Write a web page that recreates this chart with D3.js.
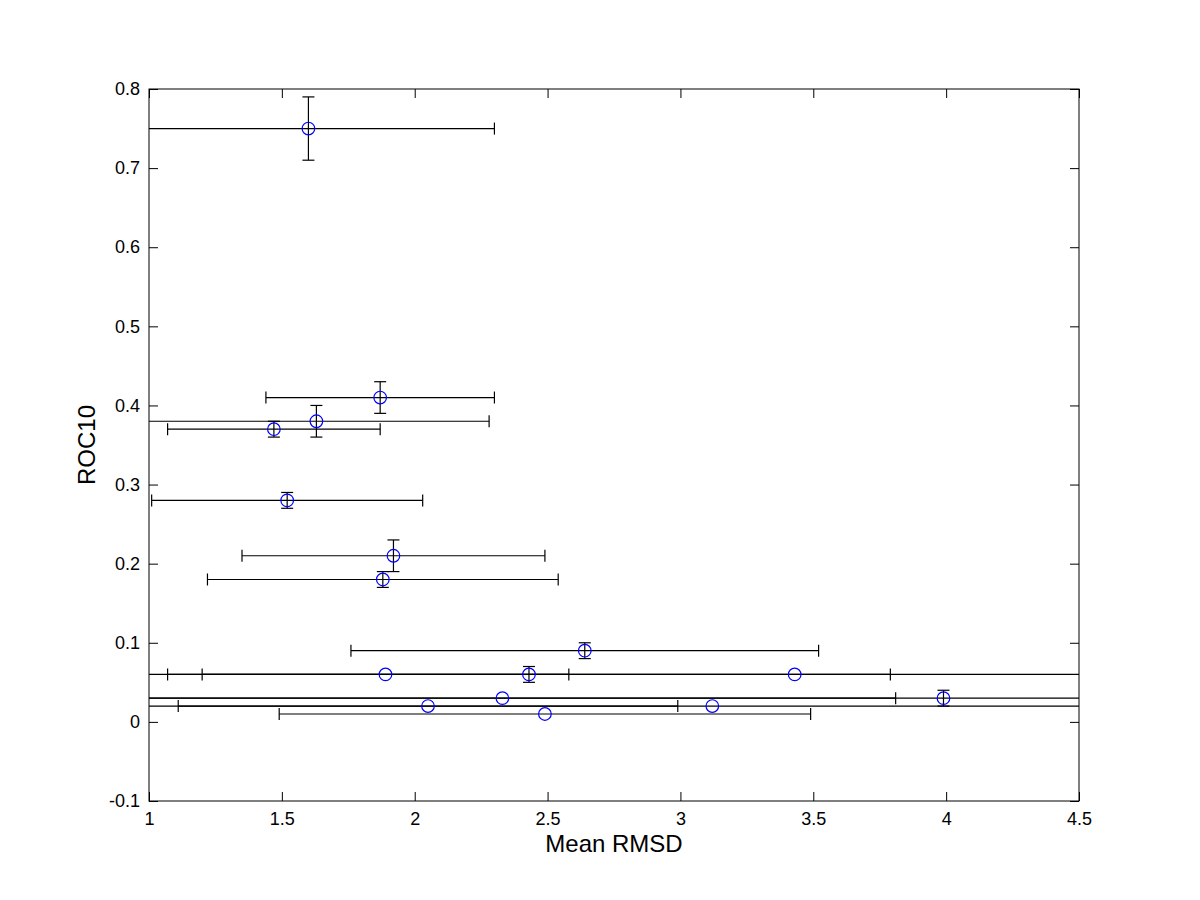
<!DOCTYPE html>
<html>
<head>
<meta charset="utf-8">
<script src="https://cdn.jsdelivr.net/npm/d3@7"></script>
<style>
  html, body { margin: 0; padding: 0; background: #ffffff; }
  svg { display: block; }
  text { font-family: "Liberation Sans", Arial, Helvetica, sans-serif; fill: #000; }
</style>
</head>
<body>
<svg id="chart" width="1200" height="900"></svg>
<script>
// Data
const meanRMSD = [1.60, 1.87, 1.63, 1.47, 1.52, 1.92, 1.88, 2.64, 1.89, 2.43, 3.43, 2.33, 3.99, 2.05, 3.12, 2.49];
const roc10    = [0.75, 0.41, 0.38, 0.37, 0.28, 0.21, 0.18, 0.09, 0.06, 0.06, 0.06, 0.03, 0.03, 0.02, 0.02, 0.01];
const rmsdErr  = [0.70, 0.43, 0.65, 0.40, 0.51, 0.57, 0.66, 0.88, 0.69, 1.36, 2.60, 1.48, 3.20, 0.94, 2.30, 1.00];
const rocErr   = [0.04, 0.02, 0.02, 0.01, 0.01, 0.02, 0.01, 0.01, 0.00, 0.01, 0.00, 0.00, 0.01, 0.00, 0.00, 0.00];
const xTicks = [1, 1.5, 2, 2.5, 3, 3.5, 4, 4.5];
const yTicks = [-0.1, 0, 0.1, 0.2, 0.3, 0.4, 0.5, 0.6, 0.7, 0.8];
const xLabel = "Mean RMSD";
const yLabel = "ROC10";

(function () {
  const points = meanRMSD.map((x, i) => ({ x, y: roc10[i], xe: rmsdErr[i], ye: rocErr[i] }));

  const svg = d3.select("#chart");
  const pL = 149, pR = 1079, pT = 89, pB = 801;
  const x = d3.scaleLinear().domain([1, 4.5]).range([pL, pR]);
  const y = d3.scaleLinear().domain([-0.1, 0.8]).range([pB, pT]);
  const tickLen = 9;
  const cap = 6;

  svg.append("defs").append("clipPath").attr("id", "clip")
    .append("rect").attr("x", pL).attr("y", pT).attr("width", pR - pL).attr("height", pB - pT);

  const fmt = d => String(d);
  const axB = svg.append("g").attr("transform", `translate(0,${pB})`)
    .call(d3.axisBottom(x).tickValues(xTicks).tickFormat(fmt).tickSizeInner(-tickLen).tickSizeOuter(0).tickPadding(8));
  const axT = svg.append("g").attr("transform", `translate(0,${pT})`)
    .call(d3.axisTop(x).tickValues(xTicks).tickFormat(() => "").tickSizeInner(-tickLen).tickSizeOuter(0));
  const axL = svg.append("g").attr("transform", `translate(${pL},0)`)
    .call(d3.axisLeft(y).tickValues(yTicks).tickFormat(fmt).tickSizeInner(-tickLen).tickSizeOuter(0).tickPadding(9));
  const axR = svg.append("g").attr("transform", `translate(${pR},0)`)
    .call(d3.axisRight(y).tickValues(yTicks).tickFormat(() => "").tickSizeInner(-tickLen).tickSizeOuter(0));

  [axB, axT, axL, axR].forEach(g => {
    g.select(".domain").remove();
    g.selectAll("line").attr("stroke", "#000").attr("stroke-width", 1);
    g.selectAll("text").style("font-size", "18px").attr("fill", "#000");
  });
  axB.selectAll("text").attr("dy", "0.9em");

  svg.append("rect").attr("x", pL).attr("y", pT).attr("width", pR - pL).attr("height", pB - pT)
    .attr("fill", "none").attr("stroke", "#000").attr("stroke-width", 1);

  const eb = svg.append("g").attr("clip-path", "url(#clip)").attr("stroke", "#000").attr("stroke-width", 1.2).attr("fill", "none");
  points.forEach(p => {
    const cx = x(p.x), cy = y(p.y);
    const x0 = x(p.x - p.xe), x1 = x(p.x + p.xe);
    eb.append("line").attr("x1", x0).attr("x2", x1).attr("y1", cy).attr("y2", cy);
    eb.append("line").attr("x1", x0).attr("x2", x0).attr("y1", cy - cap).attr("y2", cy + cap);
    eb.append("line").attr("x1", x1).attr("x2", x1).attr("y1", cy - cap).attr("y2", cy + cap);
    if (p.ye > 0) {
      const y0 = y(p.y - p.ye), y1 = y(p.y + p.ye);
      eb.append("line").attr("x1", cx).attr("x2", cx).attr("y1", y0).attr("y2", y1);
      eb.append("line").attr("x1", cx - cap).attr("x2", cx + cap).attr("y1", y0).attr("y2", y0);
      eb.append("line").attr("x1", cx - cap).attr("x2", cx + cap).attr("y1", y1).attr("y2", y1);
    }
  });

  svg.append("g").selectAll("circle").data(points).join("circle")
    .attr("cx", d => x(d.x)).attr("cy", d => y(d.y)).attr("r", 6.3)
    .attr("fill", "none").attr("stroke", "#0000ff").attr("stroke-width", 1.2);

  svg.append("text").attr("x", (pL + pR) / 2).attr("y", 852).attr("text-anchor", "middle")
    .style("font-size", "24px").text(xLabel);
  svg.append("text").attr("transform", `translate(95,${(pT + pB) / 2}) rotate(-90)`).attr("text-anchor", "middle")
    .style("font-size", "24px").text(yLabel);
})();
</script>
</body>
</html>
